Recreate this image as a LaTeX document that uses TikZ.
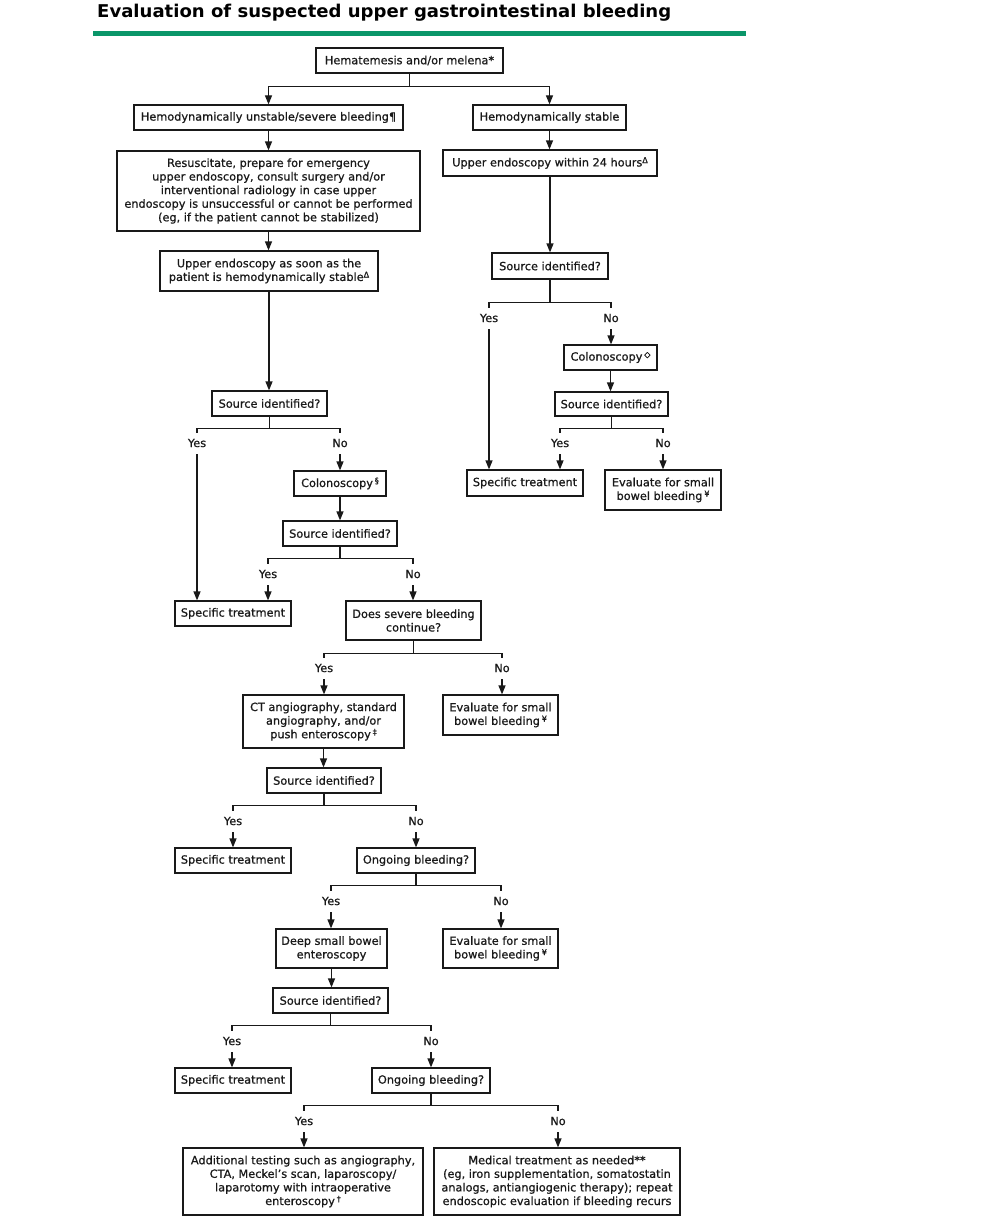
\documentclass[tikz,border=0pt]{standalone}
\usepackage{fontspec}
\usepackage{graphicx}
\setmainfont[FakeBold=0.8]{DejaVu Sans}
\newfontfamily\ttlfont{DejaVu Sans Bold}
\usetikzlibrary{arrows.meta}
\definecolor{ttlgreen}{RGB}{10,150,105}
\definecolor{ink}{RGB}{25,25,25}
\newcommand\sps[1]{\raisebox{0.55ex}{\fontsize{8}{9}\selectfont #1}}
\begin{document}
\begin{tikzpicture}[x=1pt,y=-1pt,
  box/.style={draw=ink, text=ink, line width=1.2pt, inner sep=0pt, align=center, font=\fontsize{11.3}{13.6}\selectfont},
  lbl/.style={inner sep=1pt, text=ink, font=\fontsize{11.3}{13.6}\selectfont},
  ln/.style={draw=ink, line width=1.2pt},
  arr/.style={draw=ink, line width=1.2pt, -{Triangle[length=9pt,width=7pt]}}]
\useasboundingbox (0,0) rectangle (984,1228);

% title
\node[anchor=base west, inner sep=0pt, text=black, font=\ttlfont\fontsize{17.6}{20}\selectfont] (title) at (97,17.5)
  {\resizebox{574pt}{\height}{Evaluation of suspected upper gastrointestinal bleeding}};
\fill[ttlgreen] (93,31) rectangle (746,36);

% nodes
\node[box, minimum width=187pt, minimum height=25pt] (h) at (409.5,60.5) {Hematemesis and/or melena*};
\node[box, minimum width=269pt, minimum height=25pt] (un) at (268.5,117.5) {Hemodynamically unstable/severe bleeding¶};
\node[box, minimum width=153pt, minimum height=25pt] (st) at (549.5,117.5) {Hemodynamically stable};
\node[box, minimum width=303pt, minimum height=80pt] (res) at (268.5,191) {Resuscitate, prepare for emergency\\upper endoscopy, consult surgery and/or\\interventional radiology in case upper\\endoscopy is unsuccessful or cannot be performed\\(eg, if the patient cannot be stabilized)};
\node[box, minimum width=214pt, minimum height=26pt] (ue24) at (550,163) {Upper endoscopy within 24 hours\sps{Δ}};
\node[box, minimum width=218pt, minimum height=40pt] (uess) at (269,271) {Upper endoscopy as soon as the\\patient is hemodynamically stable\sps{Δ}};

% right branch
\node[box, minimum width=116pt, minimum height=26pt] (rs1) at (550,266) {Source identified?};
\node[lbl] (ry1) at (489,318) {Yes};
\node[lbl] (rn1) at (611,318) {No};
\node[box, minimum width=93pt, minimum height=25pt] (rcol) at (610.5,357.5) {Colonoscopy\,\sps{◇}};
\node[box, minimum width=113pt, minimum height=24pt] (rs2) at (611.5,404) {Source identified?};
\node[lbl] (ry2) at (560,443) {Yes};
\node[lbl] (rn2) at (663,443) {No};
\node[box, minimum width=116pt, minimum height=26pt] (rspec) at (525,483) {Specific treatment};
\node[box, minimum width=116pt, minimum height=40pt] (reval) at (663,490) {Evaluate for small\\bowel bleeding\,\sps{¥}};

% left branch
\node[box, minimum width=115pt, minimum height=25pt] (ls1) at (269.5,403.5) {Source identified?};
\node[lbl] (ly1) at (197,443) {Yes};
\node[lbl] (ln1) at (340,443) {No};
\node[box, minimum width=92pt, minimum height=25pt] (lcol) at (340,483.5) {Colonoscopy\,\sps{§}};
\node[box, minimum width=114pt, minimum height=25pt] (ls2) at (340,533.5) {Source identified?};
\node[lbl] (ly2) at (268,574) {Yes};
\node[lbl] (ln2) at (413,574) {No};
\node[box, minimum width=116pt, minimum height=25pt] (lspec1) at (233,613.5) {Specific treatment};
\node[box, minimum width=135pt, minimum height=39pt] (sev) at (413.5,620.5) {Does severe bleeding\\continue?};
\node[lbl] (sy) at (324,668) {Yes};
\node[lbl] (sn) at (502,668) {No};
\node[box, minimum width=161pt, minimum height=53pt] (ct) at (323.5,721.5) {CT angiography, standard\\angiography, and/or\\push enteroscopy\,\sps{‡}};
\node[box, minimum width=115pt, minimum height=40pt] (ev2) at (500.5,715) {Evaluate for small\\bowel bleeding\,\sps{¥}};
\node[box, minimum width=114pt, minimum height=25pt] (s3) at (324,780.5) {Source identified?};
\node[lbl] (y3) at (233,821) {Yes};
\node[lbl] (n3) at (416,821) {No};
\node[box, minimum width=116pt, minimum height=25pt] (spec2) at (233,860.5) {Specific treatment};
\node[box, minimum width=118pt, minimum height=25pt] (og1) at (416,860.5) {Ongoing bleeding?};
\node[lbl] (oy1) at (331,901) {Yes};
\node[lbl] (on1) at (501,901) {No};
\node[box, minimum width=111pt, minimum height=39pt] (deep) at (331.5,948.5) {Deep small bowel\\enteroscopy};
\node[box, minimum width=115pt, minimum height=39pt] (ev3) at (500.5,948.5) {Evaluate for small\\bowel bleeding\,\sps{¥}};
\node[box, minimum width=115pt, minimum height=25pt] (s4) at (330.5,1000.5) {Source identified?};
\node[lbl] (y4) at (232,1041) {Yes};
\node[lbl] (n4) at (431,1041) {No};
\node[box, minimum width=116pt, minimum height=25pt] (spec3) at (233,1080.5) {Specific treatment};
\node[box, minimum width=118pt, minimum height=25pt] (og2) at (431,1080.5) {Ongoing bleeding?};
\node[lbl] (oy2) at (304,1121) {Yes};
\node[lbl] (on2) at (558,1121) {No};
\node[box, minimum width=240pt, minimum height=67pt] (add) at (303,1181.5) {Additional testing such as angiography,\\CTA, Meckel's scan, laparoscopy/\\laparotomy with intraoperative\\enteroscopy\,\sps{†}};
\node[box, minimum width=246pt, minimum height=67pt] (med) at (557,1181.5) {Medical treatment as needed**\\(eg, iron supplementation, somatostatin\\analogs, antiangiogenic therapy); repeat\\endoscopic evaluation if bleeding recurs};

% top connectors
\draw[arr] (h.south) -- ++(0,13) -| (un.north);
\draw[arr] (h.south) -- ++(0,13) -| (st.north);
\draw[arr] (un.south) -- (un.south |- res.north);
\draw[arr] (res.south) -- (res.south |- uess.north);
\draw[arr] (uess.south) -- (uess.south |- ls1.north);
\draw[arr] (st.south) -- (st.south |- ue24.north);
\draw[arr] (ue24.south) -- (ue24.south |- rs1.north);

% right decisions
\draw[ln] (rs1.south) -- ++(0,23) -| ([yshift=5pt]ry1.north);
\draw[ln] (rs1.south) -- ++(0,23) -| ([yshift=5pt]rn1.north);
\draw[arr] ([yshift=-6pt]ry1.south) -- (ry1.south |- rspec.north);
\draw[arr] ([yshift=-6pt]rn1.south) -- (rn1.south |- rcol.north);
\draw[arr] (rcol.south) -- (rcol.south |- rs2.north);
\draw[ln] (rs2.south) -- ++(0,12) -| ([yshift=5pt]ry2.north);
\draw[ln] (rs2.south) -- ++(0,12) -| ([yshift=5pt]rn2.north);
\draw[arr] ([yshift=-6pt]ry2.south) -- (ry2.south |- rspec.north);
\draw[arr] ([yshift=-6pt]rn2.south) -- (rn2.south |- reval.north);

% left decisions
\draw[ln] (ls1.south) -- ++(0,12) -| ([yshift=5pt]ly1.north);
\draw[ln] (ls1.south) -- ++(0,12) -| ([yshift=5pt]ln1.north);
\draw[arr] ([yshift=-6pt]ly1.south) -- (ly1.south |- lspec1.north);
\draw[arr] ([yshift=-6pt]ln1.south) -- (ln1.south |- lcol.north);
\draw[arr] (lcol.south) -- (lcol.south |- ls2.north);
\draw[ln] (ls2.south) -- ++(0,12) -| ([yshift=5pt]ly2.north);
\draw[ln] (ls2.south) -- ++(0,12) -| ([yshift=5pt]ln2.north);
\draw[arr] ([yshift=-6pt]ly2.south) -- (ly2.south |- lspec1.north);
\draw[arr] ([yshift=-6pt]ln2.south) -- (ln2.south |- sev.north);

\draw[ln] (sev.south) -- ++(0,13) -| ([yshift=5pt]sy.north);
\draw[ln] (sev.south) -- ++(0,13) -| ([yshift=5pt]sn.north);
\draw[arr] ([yshift=-6pt]sy.south) -- (sy.south |- ct.north);
\draw[arr] ([yshift=-6pt]sn.south) -- (sn.south |- ev2.north);
\draw[arr] (ct.south) -- (ct.south |- s3.north);

\draw[ln] (s3.south) -- ++(0,12) -| ([yshift=5pt]y3.north);
\draw[ln] (s3.south) -- ++(0,12) -| ([yshift=5pt]n3.north);
\draw[arr] ([yshift=-6pt]y3.south) -- (y3.south |- spec2.north);
\draw[arr] ([yshift=-6pt]n3.south) -- (n3.south |- og1.north);

\draw[ln] (og1.south) -- ++(0,12) -| ([yshift=5pt]oy1.north);
\draw[ln] (og1.south) -- ++(0,12) -| ([yshift=5pt]on1.north);
\draw[arr] ([yshift=-6pt]oy1.south) -- (oy1.south |- deep.north);
\draw[arr] ([yshift=-6pt]on1.south) -- (on1.south |- ev3.north);
\draw[arr] (deep.south) -- (deep.south |- s4.north);

\draw[ln] (s4.south) -- ++(0,12) -| ([yshift=5pt]y4.north);
\draw[ln] (s4.south) -- ++(0,12) -| ([yshift=5pt]n4.north);
\draw[arr] ([yshift=-6pt]y4.south) -- (y4.south |- spec3.north);
\draw[arr] ([yshift=-6pt]n4.south) -- (n4.south |- og2.north);

\draw[ln] (og2.south) -- ++(0,12) -| ([yshift=5pt]oy2.north);
\draw[ln] (og2.south) -- ++(0,12) -| ([yshift=5pt]on2.north);
\draw[arr] ([yshift=-6pt]oy2.south) -- (oy2.south |- add.north);
\draw[arr] ([yshift=-6pt]on2.south) -- (on2.south |- med.north);
\end{tikzpicture}
\end{document}
